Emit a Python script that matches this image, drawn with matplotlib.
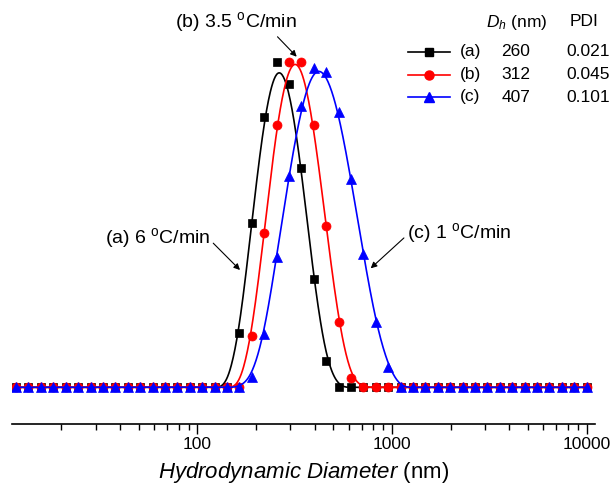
import numpy as np
import matplotlib
matplotlib.use("Agg")
import matplotlib.pyplot as plt
from matplotlib.lines import Line2D
from matplotlib.ticker import FixedLocator, LogLocator, NullFormatter

plt.rcParams['font.family'] = ['Liberation Sans', 'DejaVu Sans']
plt.rcParams['mathtext.fontset'] = 'custom'
plt.rcParams['mathtext.rm'] = 'Liberation Sans'
plt.rcParams['mathtext.it'] = 'Liberation Sans:italic'
plt.rcParams['mathtext.default'] = 'regular'

# size classes (nm) and intensity (%) for the three cooling rates
size_nm = [11.7, 13.54, 15.69, 18.17, 21.04, 24.36, 28.21, 32.67, 37.84, 43.82,
           50.75, 58.77, 68.06, 78.82, 91.28, 105.7, 122.4, 141.8, 164.2, 190.1,
           220.2, 255.0, 295.3, 342.0, 396.1, 458.7, 531.2, 615.1, 712.4, 825.0,
           955.4, 1106, 1281, 1484, 1718, 1990, 2305, 2669, 3091, 3580,
           4145, 4801, 5560, 6439, 7456, 8635, 10000]
int_a = [0, 0, 0, 0, 0, 0, 0, 0, 0, 0,
         0, 0, 0, 0, 0, 0, 0, 0, 3.7, 11.1,
         18.3, 22.0, 20.5, 14.8, 7.3, 1.8, 0, 0, 0, 0,
         0, 0, 0, 0, 0, 0, 0, 0, 0, 0,
         0, 0, 0, 0, 0, 0, 0]
int_b = [0, 0, 0, 0, 0, 0, 0, 0, 0, 0,
         0, 0, 0, 0, 0, 0, 0, 0, 0, 3.5,
         10.4, 17.7, 22.0, 22.0, 17.7, 10.9, 4.4, 0.6, 0, 0,
         0, 0, 0, 0, 0, 0, 0, 0, 0, 0,
         0, 0, 0, 0, 0, 0, 0]
int_c = [0, 0, 0, 0, 0, 0, 0, 0, 0, 0,
         0, 0, 0, 0, 0, 0, 0, 0, 0, 0.7,
         3.6, 8.8, 14.3, 19.0, 21.6, 21.3, 18.6, 14.1, 9.0, 4.4,
         1.4, 0, 0, 0, 0, 0, 0, 0, 0, 0,
         0, 0, 0, 0, 0, 0, 0]

labels = ['(a)', '(b)', '(c)']
dh_nm = ['260', '312', '407']
pdi = ['0.021', '0.045', '0.101']
colors = ['black', 'red', 'blue']
markers = ['s', 'o', '^']
msizes = [5.3, 6.5, 7.2]


def bspline(x, y, n=20):
    # uniform cubic B-spline through the points in log-x space (Origin style)
    lx = np.log10(x)
    px = np.concatenate([[lx[0]], lx, [lx[-1]]])
    py = np.concatenate([[y[0]], y, [y[-1]]])
    t = np.linspace(0, 1, n, endpoint=False)
    b0 = (1 - t) ** 3 / 6
    b1 = (3 * t ** 3 - 6 * t ** 2 + 4) / 6
    b2 = (-3 * t ** 3 + 3 * t ** 2 + 3 * t + 1) / 6
    b3 = t ** 3 / 6
    xs, ys = [], []
    for i in range(len(px) - 3):
        xs.append(b0 * px[i] + b1 * px[i + 1] + b2 * px[i + 2] + b3 * px[i + 3])
        ys.append(b0 * py[i] + b1 * py[i + 1] + b2 * py[i + 2] + b3 * py[i + 3])
    return 10 ** np.concatenate(xs), np.concatenate(ys)


fig = plt.figure(figsize=(6.13, 4.92), dpi=100)
H = 492.0
ax = fig.add_axes([11.7 / 613, (H - 424.3) / H, (595 - 11.7) / 613, (424.3 - 10) / H])

x = np.array(size_nm)
for yv, c, m, ms in zip([int_a, int_b, int_c], colors, markers, msizes):
    yv = np.array(yv)
    sx, sy = bspline(x, yv)
    ax.plot(sx, sy, color=c, lw=1.2)
    ax.plot(x, yv, ls='none', marker=m, ms=ms, color=c, mec=c, mew=0.5)

ax.set_xscale('log')
ax.set_xlim(11.1, 11050)
ax.set_ylim(-2.5, 25.5)
for s in ['left', 'right', 'top']:
    ax.spines[s].set_visible(False)
ax.spines['bottom'].set_linewidth(1.2)
ax.set_yticks([])
ax.xaxis.set_major_locator(FixedLocator([100, 1000, 10000]))
ax.set_xticklabels(['100', '1000', '10000'])
ax.xaxis.set_minor_locator(LogLocator(base=10, subs=np.arange(2, 10)))
ax.xaxis.set_minor_formatter(NullFormatter())
ax.tick_params(axis='x', which='major', length=7.5, width=1.0, labelsize=12.5, pad=1.5)
ax.tick_params(axis='x', which='minor', length=4, width=1.0)
ax.set_xlabel(r'$\mathit{Hydrodynamic\ Diameter}$ (nm)', fontsize=16, labelpad=6)

# annotations (figure pixel coords)
arr = dict(arrowstyle='-|>', color='black', lw=0.8, mutation_scale=9, shrinkA=0, shrinkB=0)
fig_pt = 'figure pixels'
ax.annotate(r'(b) 3.5 $^{o}$C/min', xy=(296.7, H - 56.7), xycoords=fig_pt,
            xytext=(175, H - 22), textcoords=fig_pt, fontsize=14, va='center', ha='left',
            arrowprops=dict(arr, relpos=(0.82, 0.0)))
ax.annotate(r'(a) 6 $^{o}$C/min', xy=(240, H - 270), xycoords=fig_pt,
            xytext=(105, H - 238), textcoords=fig_pt, fontsize=14, va='center', ha='left',
            arrowprops=dict(arr, relpos=(1.0, 0.4)))
ax.annotate(r'(c) 1 $^{o}$C/min', xy=(370.7, H - 268.3), xycoords=fig_pt,
            xytext=(406.7, H - 233), textcoords=fig_pt, fontsize=14, va='center', ha='left',
            arrowprops=dict(arr, relpos=(0.0, 0.4)))

# legend table
fig.text(517 / 613, (H - 22) / H, r'$\mathit{D_h}$ (nm)', fontsize=12.5, ha='center', va='center')
fig.text(584 / 613, (H - 22) / H, 'PDI', fontsize=12.5, ha='center', va='center')
rows_y = [51.7, 74.5, 97]
for i in range(3):
    yy = (H - rows_y[i]) / H
    fig.add_artist(Line2D([408 / 613, 450 / 613], [yy, yy], color=colors[i], lw=1.2,
                          transform=fig.transFigure))
    fig.add_artist(Line2D([429 / 613], [yy], color=colors[i], marker=markers[i],
                          ms=msizes[i], mec=colors[i], transform=fig.transFigure))
    fig.text(460 / 613, yy, labels[i], fontsize=12.5, ha='left', va='center')
    fig.text(516 / 613, yy, dh_nm[i], fontsize=12.5, ha='center', va='center')
    fig.text(566 / 613, yy, pdi[i], fontsize=12.5, ha='left', va='center')

fig.savefig('out.png', dpi=100)
